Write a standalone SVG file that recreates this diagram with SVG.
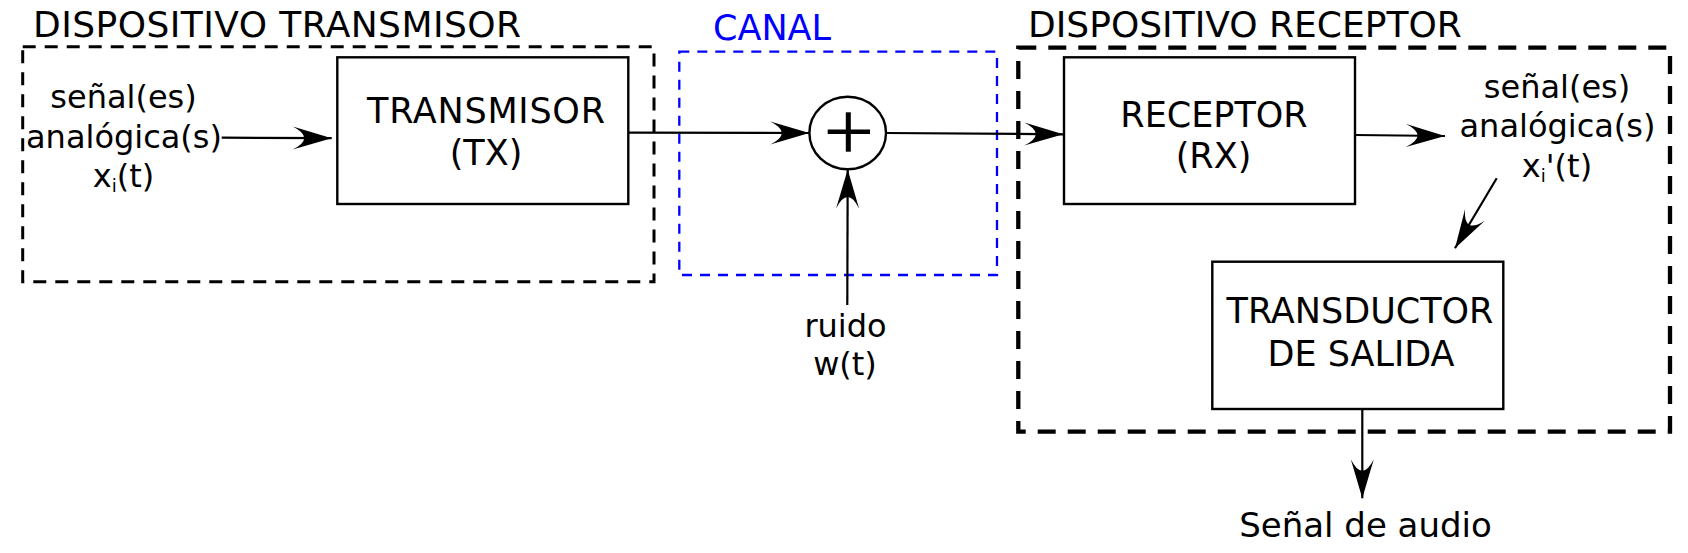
<svg xmlns="http://www.w3.org/2000/svg" width="1688" height="553" viewBox="0 0 1688 553">
  <style>
    text { font-family: "DejaVu Sans", "Liberation Sans", sans-serif; fill: #000; }
    .title { font-size: 36px; }
    .box-label { font-size: 35px; text-anchor: middle; }
    .sig { font-size: 32px; text-anchor: middle; }
    .block { fill: #fff; stroke: #000; stroke-width: 2.4; }
    .conn { stroke: #000; stroke-width: 2.2; fill: none; marker-end: url(#arr); }
    .grp-tx { fill: none; stroke: #000; stroke-width: 3; stroke-dasharray: 13 9; }
    .grp-rx { fill: none; stroke: #000; stroke-width: 4.3; stroke-dasharray: 18 12; }
    .grp-ch { fill: none; stroke: #0000ff; stroke-width: 2.3; stroke-dasharray: 10 8; }
  </style>
  <defs>
    <marker id="arr" markerUnits="userSpaceOnUse" markerWidth="44" markerHeight="28" viewBox="-42 -14 44 28" refX="0" refY="0" orient="auto">
      <path d="M0,0 L-39,-11.5 Q-16,0 -39,11.5 Z" fill="#000"/>
    </marker>
  </defs>

  <rect width="1688" height="553" fill="#fff"/>

  <g id="dispositivo-transmisor">
    <rect class="grp-tx" x="22.7" y="46.7" width="631.3" height="235"/>
    <text class="title" x="33" y="37" textLength="488" lengthAdjust="spacing">DISPOSITIVO TRANSMISOR</text>
  </g>

  <g id="canal">
    <rect class="grp-ch" x="679.3" y="51.7" width="317.7" height="223.3"/>
    <text x="713" y="40" font-size="35" style="fill:#0000ff">CANAL</text>
  </g>

  <g id="dispositivo-receptor">
    <rect class="grp-rx" x="1018.3" y="47.7" width="651.7" height="384"/>
    <text class="title" x="1028" y="37">DISPOSITIVO RECEPTOR</text>
  </g>

  <g id="entrada">
    <text class="sig" x="123.5" y="108">señal(es)</text>
    <text class="sig" x="124" y="147.5">analógica(s)</text>
    <text class="sig" x="123.5" y="187">x<tspan font-size="18" dy="5">i</tspan><tspan dy="-5">(t)</tspan></text>
  </g>

  <g id="transmisor">
    <rect class="block" x="337.3" y="57.3" width="291" height="146.7"/>
    <text class="box-label" x="486" y="123.3" textLength="238" lengthAdjust="spacing">TRANSMISOR</text>
    <text class="box-label" x="486" y="165">(TX)</text>
  </g>

  <g id="sumador">
    <ellipse cx="847.7" cy="133" rx="38.3" ry="36.3" fill="#fff" stroke="#000" stroke-width="2.4"/>
    <line x1="827.7" y1="131.7" x2="870" y2="131.7" stroke="#000" stroke-width="4.5"/>
    <line x1="848.3" y1="112.3" x2="848.3" y2="151.7" stroke="#000" stroke-width="5"/>
  </g>

  <g id="ruido">
    <text class="sig" x="845.5" y="336.7">ruido</text>
    <text class="sig" x="845" y="375">w(t)</text>
  </g>

  <g id="receptor">
    <rect class="block" x="1064" y="57.3" width="291" height="146.7"/>
    <text class="box-label" x="1214" y="127.3">RECEPTOR</text>
    <text class="box-label" x="1213.5" y="168.3">(RX)</text>
  </g>

  <g id="salida-analogica">
    <text class="sig" x="1557" y="98">señal(es)</text>
    <text class="sig" x="1557.5" y="137">analógica(s)</text>
    <text class="sig" x="1557" y="177">x<tspan font-size="18" dy="5">i</tspan><tspan dy="-5">'(t)</tspan></text>
  </g>

  <g id="transductor">
    <rect class="block" x="1212.3" y="261.7" width="291" height="147.3"/>
    <text class="box-label" x="1360" y="322.7">TRANSDUCTOR</text>
    <text class="box-label" x="1361" y="366">DE SALIDA</text>
  </g>

  <g id="audio">
    <text x="1365.5" y="536.7" font-size="34" text-anchor="middle">Señal de audio</text>
  </g>

  <g id="connectors">
    <line class="conn" x1="221.7" y1="137.7" x2="331.7" y2="138.2"/>
    <line class="conn" x1="628.3" y1="132.7" x2="809.3" y2="133"/>
    <line class="conn" x1="886" y1="133" x2="1063.3" y2="134.3"/>
    <line class="conn" x1="1355" y1="135" x2="1445" y2="136"/>
    <line class="conn" x1="1496.7" y1="178.3" x2="1455" y2="248.3"/>
    <line class="conn" x1="847.3" y1="305" x2="847.7" y2="169.5"/>
    <line class="conn" x1="1362.3" y1="409" x2="1362.3" y2="498.3"/>
  </g>
</svg>
